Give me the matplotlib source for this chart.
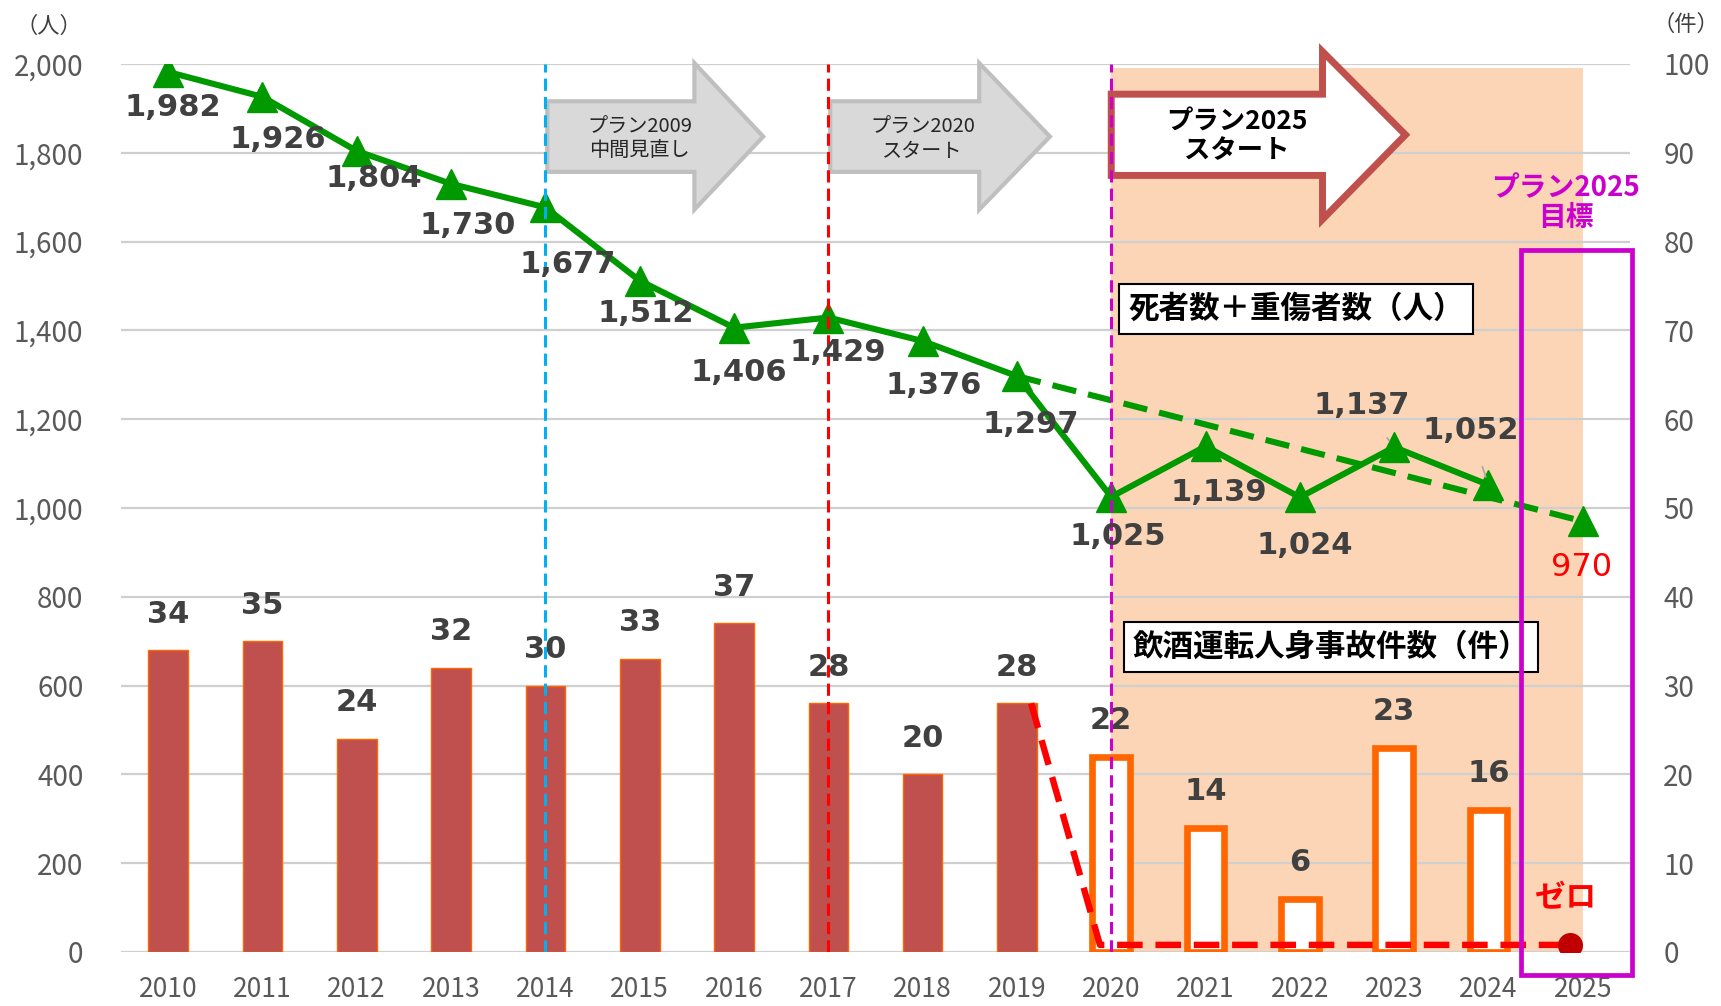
import matplotlib
matplotlib.use('Agg')
import matplotlib.pyplot as plt
import numpy as np
from matplotlib.patches import Polygon, Rectangle
from matplotlib.ticker import FuncFormatter

plt.rcParams['font.family'] = ['Noto Sans CJK JP', 'DejaVu Sans']

# ---------------- data ----------------
years = ['2010', '2011', '2012', '2013', '2014', '2015', '2016', '2017',
         '2018', '2019', '2020', '2021', '2022', '2023', '2024', '2025']
casualties = [1982, 1926, 1804, 1730, 1677, 1512, 1406, 1429, 1376, 1297,
              1025, 1139, 1024, 1137, 1052]          # 死者数＋重傷者数（人）
casualty_target = 970                                 # 2025 目標
accidents = [34, 35, 24, 32, 30, 33, 37, 28, 20, 28,
             22, 14, 6, 23, 16]                       # 飲酒運転人身事故件数（件）
accident_target = 0                                   # ゼロ
left_ticks = list(range(0, 2001, 200))
right_ticks = list(range(0, 101, 10))
plan_start_index = 10      # 2020: プラン2025 start (first hollow bar)

# label offsets (pixels, right / down) for the line data labels
label_offsets = [(5, 36), (15, 43), (17, 27), (17, 42), (22, 57), (6, 33),
                 (5, 45), (9, 35), (11, 44), (14, 48), (7, 40), (13, 46),
                 (5, 48), (-32, -42), (-18, -54)]

# ---------------- figure ----------------
fig = plt.figure(figsize=(17.21, 10.06), dpi=100)
fig.patch.set_facecolor('white')
ax1 = fig.add_axes([0.0703, 0.0537, 0.8768, 0.8827])
ax2 = ax1.twinx()
ax1.set_zorder(3)
ax1.patch.set_visible(False)

x = np.arange(len(years))
ax1.set_xlim(-0.5, len(years) - 0.5)
ax1.set_ylim(0, 2000)
ax2.set_ylim(0, 100)

for ax in (ax1, ax2):
    for s in ax.spines.values():
        s.set_visible(False)

tick_color = '#595959'
ax1.set_yticks(left_ticks)
ax1.yaxis.set_major_formatter(FuncFormatter(lambda v, p: f'{int(v):,}'))
ax1.tick_params(axis='y', length=0, pad=27, labelsize=20, labelcolor=tick_color)
ax2.set_yticks(right_ticks)
ax2.tick_params(axis='y', length=0, pad=24, labelsize=20, labelcolor=tick_color)
ax1.set_xticks(x)
ax1.set_xticklabels(years)
ax1.tick_params(axis='x', length=0, pad=17, labelsize=19, labelcolor=tick_color)

# grid + background
ax2.set_axisbelow(True)
ax2.yaxis.grid(True, color='#CFCFCF', lw=1.6)
ax2.axvspan(plan_start_index, len(years) - 1, ymin=0, ymax=0.995,
            color='#FBD5B5', zorder=0.1, lw=0)

# bars
n_fill = plan_start_index
ax2.bar(x[:n_fill], accidents[:n_fill], width=0.42, color='#C0504D',
        edgecolor='#FF6600', lw=1, zorder=2)
ax2.bar(x[n_fill:len(accidents)], accidents[n_fill:], width=0.40, color='white',
        edgecolor='#FF6600', lw=4.8, zorder=2)
for i, v in enumerate(accidents):
    ax2.annotate(str(v), (x[i], v), xytext=(0, 36), textcoords='offset pixels',
                 ha='center', va='center', fontsize=22, fontweight='bold',
                 color='#404040', family='DejaVu Sans', zorder=5)

# red dashed "ゼロ" trend
last_fill = n_fill - 1
tgt_x = x[-1] - 0.14
ax2.plot([x[last_fill] + 0.15, x[n_fill] - 0.12, tgt_x],
         [accidents[last_fill], accident_target + 0.8, accident_target + 0.8],
         color='#FF0000', lw=4.6, dashes=(4, 2), zorder=4, solid_capstyle='butt')
ax2.plot([tgt_x], [accident_target + 0.8], marker='o', ms=17,
         color='#C00000', zorder=5)

# green line
green = '#009900'
ax1.plot(x[:len(casualties)], casualties, color=green, lw=4.4, marker='^',
         ms=22, mew=1, zorder=4)
ax1.plot([x[len(casualties) - 6], x[-1]], [casualties[-6], casualty_target],
         color=green, lw=4.4, dashes=(4, 2), zorder=5)
ax1.plot([x[-1]], [casualty_target], marker='^', ms=22, color=green, zorder=5)

for i, v in enumerate(casualties):
    dx, dy = label_offsets[i]
    kw = {}
    if i >= 13:
        kw['arrowprops'] = dict(arrowstyle='-', color='#A6A6A6', lw=1.2,
                                shrinkA=14, shrinkB=6)
    ax1.annotate(f'{v:,}', (x[i], v), xytext=(dx, -dy), textcoords='offset pixels',
                 ha='center', va='center', fontsize=22, fontweight='bold',
                 color='#404040', family='DejaVu Sans', zorder=7, **kw)
ax1.annotate(f'{casualty_target}', (x[-1], casualty_target), xytext=(-1, -46),
             textcoords='offset pixels', ha='center', va='center', fontsize=23,
             color='#FF0000', family='DejaVu Sans', zorder=7)

# milestone arrows
def arrow_poly(x0, x1, xt, yb0, yb1, yh0, yh1):
    yc = (yb0 + yb1) / 2
    return [(x0, yb0), (x1, yb0), (x1, yh0), (xt, yc), (x1, yh1), (x1, yb1), (x0, yb1)]

for x0, x1, xt, tx, txt in [(4.02, 5.58, 6.31, 5.0, 'プラン2009\n中間見直し'),
                            (7.02, 8.60, 9.35, 8.0, 'プラン2020\nスタート')]:
    ax1.add_patch(Polygon(arrow_poly(x0, x1, xt, 1757, 1916, 1672, 2002),
                          closed=True, fc='#D9D9D9', ec='#BFBFBF', lw=3,
                          joinstyle='miter', zorder=5, clip_on=False))
    ax1.text(tx, 1830, txt, ha='center', va='center', fontsize=14.5,
             color='#262626', linespacing=1.2, zorder=6)

ax1.add_patch(Polygon(arrow_poly(10.0, 12.24, 13.12, 1749, 1932, 1650, 2028),
                      closed=True, fc='white', ec='#C0504D', lw=5,
                      joinstyle='miter', zorder=5, clip_on=False))
ax1.text(11.33, 1838, 'プラン2025\nスタート', ha='center', va='center',
         fontsize=19, fontweight='bold', color='black', linespacing=1.15, zorder=6)

# milestone vertical lines
for xi, col in [(4, '#00B0F0'), (7, '#FF0000'), (10, '#CC00CC')]:
    ax1.axvline(xi, color=col, lw=2.2, dashes=(4, 2), zorder=6)

# legend-like text boxes
ax1.text(11.96, 1448, '死者数＋重傷者数（人）', ha='center', va='center',
         fontsize=22, fontweight='bold', color='black', zorder=6,
         bbox=dict(boxstyle='square,pad=0.3', fc='white', ec='black', lw=1.5))
ax1.text(12.33, 687, '飲酒運転人身事故件数（件）', ha='center', va='center',
         fontsize=22, fontweight='bold', color='black', zorder=6,
         bbox=dict(boxstyle='square,pad=0.3', fc='white', ec='black', lw=1.5))

# target box
magenta = '#CC00CC'
ax1.add_patch(Rectangle((14.34, -52), 15.52 - 14.34, 1581 + 52, fill=False,
                        ec=magenta, lw=3.4, zorder=8, clip_on=False))
ax1.text(14.82, 1687, 'プラン2025\n目標', ha='center', va='center', fontsize=20,
         fontweight='bold', color=magenta, linespacing=1.1, zorder=8)
ax1.text(14.82, 122, 'ゼロ', ha='center', va='center', fontsize=22,
         fontweight='bold', color='#FF0000', zorder=8)

# unit labels
fig.text(49 / 1721, 1 - 26 / 1006, '（人）', ha='center', va='center',
         fontsize=16, color='#404040')
fig.text(1686 / 1721, 1 - 24 / 1006, '（件）', ha='center', va='center',
         fontsize=16, color='#404040')

fig.savefig('out.png', dpi=100, facecolor='white')
